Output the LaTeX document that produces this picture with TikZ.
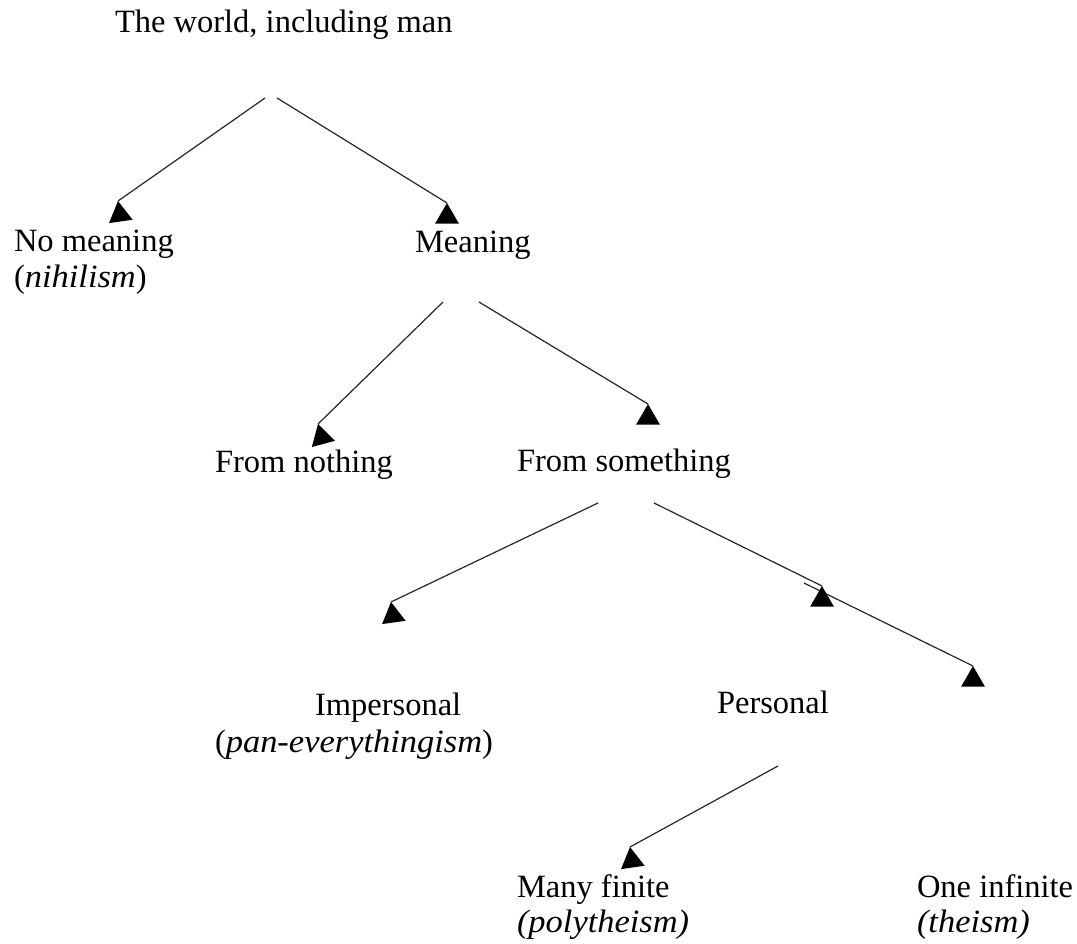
\documentclass[tikz,border=0pt]{standalone}
\usepackage{fontspec}
\setmainfont{Liberation Serif}
\newfontfamily\wideit[FakeStretch=1.06]{Liberation Serif}
\newcommand\witx[1]{{\wideit\itshape #1}}
\usetikzlibrary{shapes.geometric}
\begin{document}
\begin{tikzpicture}[x=1pt,y=-1pt,
  lbl/.style={anchor=base west, inner sep=0pt, outer sep=0pt, font=\fontsize{32.5}{37}\selectfont},
  conn/.style={line width=1.2pt, draw=black!85},
  head/.style={regular polygon, regular polygon sides=3, fill=black, inner sep=0pt, outer sep=0pt, minimum size=27.5pt, anchor=corner 1}]
\useasboundingbox (0,0) rectangle (1077,944);

% labels
\node[lbl] (world) at (115,33) {The world, including man};
\node[lbl] (nomean) at (14,252) {No meaning};
\node[lbl] (nihil) at (14,288) {(\witx{nihilism})};
\node[lbl] (mean) at (415,253) {Meaning};
\node[lbl] (fnoth) at (215,472) {From nothing};
\node[lbl] (fsome) at (517,471) {From something};
\node[lbl] (imp) at (315,715) {Impersonal};
\node[lbl] (pan) at (215,752) {(\witx{pan-everythingism})};
\node[lbl] (pers) at (717,713) {Personal};
\node[lbl] (many) at (517,897) {Many finite};
\node[lbl] (poly) at (517,932) {\witx{(polytheism)}};
\node[lbl] (one) at (917,897) {One infinite};
\node[lbl] (theism) at (917,932) {\witx{(theism)}};

% connector end points
\coordinate (s1) at (265,98);  \coordinate (e1) at (118,201);
\coordinate (s2) at (277,98);  \coordinate (e2) at (447,203);
\coordinate (s3) at (443,302); \coordinate (e3) at (318,424);
\coordinate (s4) at (479,302); \coordinate (e4) at (648,404);
\coordinate (s5) at (598,503); \coordinate (e5) at (391,602);
\coordinate (s6) at (654,503); \coordinate (e6) at (822,586);
\coordinate (s7) at (804,583); \coordinate (e7) at (973,666);
\coordinate (s8) at (778,766); \coordinate (e8) at (630,847);

% connectors
\draw[conn] (s1) -- (e1);
\draw[conn] (s2) -- (e2);
\draw[conn] (s3) -- (e3);
\draw[conn] (s4) -- (e4);
\draw[conn] (s5) -- (e5);
\draw[conn] (s6) -- (e6);
\draw[conn] (s7) -- (e7);
\draw[conn] (s8) -- (e8);

% arrowheads
\node[head, rotate=8]  (h1) at (e1) {};
\node[head]            (h2) at (e2) {};
\node[head, rotate=15] (h3) at (e3) {};
\node[head]            (h4) at (e4) {};
\node[head, rotate=8]  (h5) at (e5) {};
\node[head]            (h6) at (e6) {};
\node[head]            (h7) at (e7) {};
\node[head, rotate=8]  (h8) at (e8) {};
\end{tikzpicture}
\end{document}
